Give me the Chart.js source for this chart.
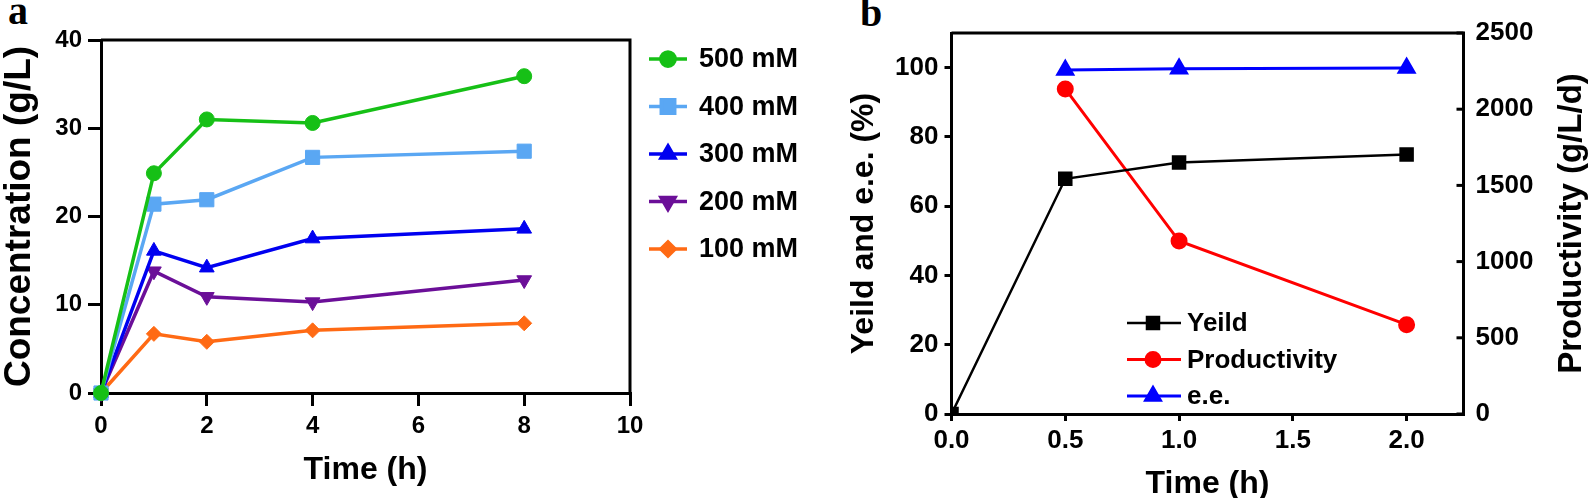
<!DOCTYPE html>
<html>
<head>
<meta charset="utf-8">
<script src="https://cdn.jsdelivr.net/npm/chart.js@4.4.1/dist/chart.umd.min.js"></script>
<style>
  html, body { margin:0; padding:0; background:#fff; width:1590px; height:498px; overflow:hidden; }
  canvas { position:absolute; top:0; }
  #ca { left:0; }
  #cb { left:845px; }
  .panel { position:absolute; font-family:"Liberation Serif", serif; font-weight:bold; font-size:40px; line-height:40px; color:#000; }
</style>
</head>
<body>
<div class="panel" style="left:8px; top:-9px;">a</div>
<div class="panel" style="left:860px; top:-7px;">b</div>
<canvas id="ca" width="845" height="498"></canvas>
<canvas id="cb" width="745" height="498"></canvas>
<script>
// ---------- Panel a data ----------
const aTimes = [0, 1, 2, 4, 8];
const aLabels = ['500 mM', '400 mM', '300 mM', '200 mM', '100 mM'];
const a500 = [0, 24.9, 31.0, 30.6, 35.9];
const a400 = [0, 21.4, 21.9, 26.7, 27.4];
const a300 = [0, 16.1, 14.2, 17.5, 18.6];
const a200 = [0, 13.8, 10.9, 10.3, 12.8];
const a100 = [0, 6.7, 5.8, 7.1, 7.9];
const aXTicks = [0, 2, 4, 6, 8, 10];
const aYTicks = [0, 10, 20, 30, 40];

// ---------- Panel b data ----------
const bLabels = ['Yeild', 'Productivity', 'e.e.'];
const bYieldTimes = [0, 0.5, 1, 2];
const bYield = [0, 67.9, 72.6, 74.9];
const bProdTimes = [0.5, 1, 2];
const bProd = [2133, 1135, 586];
const bEeTimes = [0.5, 1, 2];
const bEe = [99.3, 99.7, 99.9];
const bXTicks = [0, 0.5, 1.0, 1.5, 2.0];
const bYTicks = [0, 20, 40, 60, 80, 100];
const bY2Ticks = [0, 500, 1000, 1500, 2000, 2500];
const bY2Title = 'Productivity (g/L/d)';

const pts = (xs, ys) => xs.map((x, i) => ({ x: x, y: ys[i] }));

const lineLegend = {
  id: 'lineLegend',
  afterDraw(chart, args, o) {
    const ctx = chart.ctx;
    chart.data.datasets.forEach((ds, i) => {
      const y = o.y0 + i * o.dy;
      ctx.save();
      ctx.strokeStyle = ds.borderColor;
      ctx.lineWidth = ds.borderWidth;
      ctx.beginPath(); ctx.moveTo(o.x1, y); ctx.lineTo(o.x2, y); ctx.stroke();
      ctx.fillStyle = ds.pointBackgroundColor;
      ctx.strokeStyle = ds.pointBorderColor;
      Chart.helpers.drawPoint(ctx, { pointStyle: ds.pointStyle, rotation: ds.pointRotation || 0, radius: ds.pointRadius * o.rs, borderWidth: 1 }, o.xm, y);
      ctx.fillStyle = '#000';
      ctx.font = o.font;
      ctx.textBaseline = 'middle';
      ctx.textAlign = 'left';
      ctx.fillText(ds.label, o.tx, y + (o.ty || 0));
      ctx.restore();
    });
  }
};

const frame = {
  id: 'frame',
  beforeDatasetsDraw(chart, args, o) {
    const a = chart.chartArea, ctx = chart.ctx;
    ctx.save();
    ctx.strokeStyle = '#000'; ctx.lineWidth = o.lw;
    ctx.beginPath();
    ctx.moveTo(a.left, a.top); ctx.lineTo(a.right, a.top); ctx.lineTo(a.right, a.bottom);
    ctx.stroke();
    if (o.innerRight) {
      const s = chart.scales[o.innerRight];
      s.ticks.forEach(t => {
        const py = s.getPixelForValue(t.value);
        ctx.beginPath(); ctx.moveTo(a.right, py); ctx.lineTo(a.right - o.tl, py); ctx.stroke();
      });
    }
    ctx.restore();
  },
  afterDraw(chart, args, o) {
    if (!o.rightTitle) return;
    const s = chart.scales[o.innerRight];
    const ctx = chart.ctx;
    ctx.save();
    ctx.fillStyle = '#000';
    ctx.font = o.rightFont;
    ctx.textAlign = 'center';
    ctx.textBaseline = 'middle';
    ctx.translate(s.right - o.rightOffset, (s.top + s.bottom) / 2);
    ctx.rotate(-Math.PI / 2);
    ctx.fillText(o.rightTitle, 0, 0);
    ctx.restore();
  }
};

const fixSize = (w, h) => (s) => { if (w !== undefined) s.width = w; if (h !== undefined) s.height = h; };
const plain = v => String(v);

// ---------- Chart a ----------
const aColors = ['#16c016', '#5aa7f3', '#0000f0', '#6b0f98', '#ff6a14'];
const aSeries = [a500, a400, a300, a200, a100];
const aStyles = [
  { s: 'circle', r: 7.5, rot: 0 },
  { s: 'rect', r: 10, rot: 0 },
  { s: 'triangle', r: 8.5, rot: 0 },
  { s: 'triangle', r: 8.5, rot: 180 },
  { s: 'rectRot', r: 7.5, rot: 0 }
];
const fa = 'Liberation Sans';
new Chart(document.getElementById('ca'), {
  type: 'line',
  data: {
    datasets: aSeries.map((d, i) => ({
      label: aLabels[i],
      data: pts(aTimes, d),
      borderColor: aColors[i], backgroundColor: aColors[i],
      pointBackgroundColor: aColors[i], pointBorderColor: aColors[i],
      pointBorderWidth: 1,
      pointStyle: aStyles[i].s, pointRadius: aStyles[i].r, pointRotation: aStyles[i].rot,
      borderWidth: 3.5, tension: 0, clip: false, fill: false
    }))
  },
  options: {
    responsive: false, animation: false, devicePixelRatio: 1,
    layout: { padding: { top: 40, right: 215, left: 0, bottom: 0 } },
    plugins: {
      legend: { display: false }, tooltip: { enabled: false },
      frame: { lw: 3 },
      lineLegend: { x1: 649, x2: 687, xm: 668, tx: 699, y0: 59, dy: 47.5, rs: 0.95, font: 'bold 27px "Liberation Sans"', ty: 1 }
    },
    scales: {
      x: {
        type: 'linear', min: 0, max: 10,
        afterFit: fixSize(undefined, 105),
        afterBuildTicks: s => { s.ticks = aXTicks.map(v => ({ value: v })); },
        ticks: { color: '#000', font: { family: fa, size: 24, weight: 'bold' }, padding: 6, maxRotation: 0, autoSkip: false, callback: plain },
        grid: { drawOnChartArea: false, color: '#000', lineWidth: 3, tickLength: 13 },
        border: { color: '#000', width: 3 },
        title: { display: true, text: 'Time (h)', color: '#000', font: { family: fa, size: 32, weight: 'bold', lineHeight: 1 }, padding: { top: 0, bottom: 12 } }
      },
      y: {
        type: 'linear', min: 0, max: 40,
        afterFit: fixSize(101, undefined),
        afterBuildTicks: s => { s.ticks = aYTicks.map(v => ({ value: v })); },
        ticks: { color: '#000', font: { family: fa, size: 24, weight: 'bold' }, padding: 6, autoSkip: false, callback: plain },
        grid: { drawOnChartArea: false, color: '#000', lineWidth: 3, tickLength: 13 },
        border: { color: '#000', width: 3 },
        title: { display: true, text: 'Concentration (g/L)', color: '#000', font: { family: fa, size: 37, weight: 'bold', lineHeight: 1 }, padding: { top: 1, bottom: 0 } }
      }
    }
  },
  plugins: [frame, lineLegend]
});

// ---------- Chart b ----------
const fb = 'Liberation Sans';
new Chart(document.getElementById('cb'), {
  type: 'line',
  data: {
    datasets: [
      { label: bLabels[0], data: pts(bYieldTimes, bYield), yAxisID: 'y',
        borderColor: '#000', backgroundColor: '#000', pointBackgroundColor: '#000', pointBorderColor: '#000',
        pointStyle: 'rect', pointRadius: 8.5, borderWidth: 2.5, tension: 0, clip: 0 },
      { label: bLabels[1], data: pts(bProdTimes, bProd), yAxisID: 'y1',
        borderColor: '#ff0000', backgroundColor: '#ff0000', pointBackgroundColor: '#ff0000', pointBorderColor: '#ff0000',
        pointStyle: 'circle', pointRadius: 7, borderWidth: 3, tension: 0, clip: false },
      { label: bLabels[2], data: pts(bEeTimes, bEe), yAxisID: 'y',
        borderColor: '#0000ff', backgroundColor: '#0000ff', pointBackgroundColor: '#0000ff', pointBorderColor: '#0000ff',
        pointStyle: 'triangle', pointRadius: 8.5, borderWidth: 3, tension: 0, clip: false }
    ]
  },
  options: {
    responsive: false, animation: false, devicePixelRatio: 1,
    layout: { padding: { top: 33, right: 0, left: 0, bottom: 0 } },
    plugins: {
      legend: { display: false }, tooltip: { enabled: false },
      frame: { lw: 3, innerRight: 'y1', tl: 7, rightTitle: bY2Title, rightFont: 'bold 33px "Liberation Sans"', rightOffset: 18 },
      lineLegend: { x1: 282, x2: 336, xm: 308, tx: 342, y0: 323, dy: 36.5, rs: 1, font: 'bold 26px "Liberation Sans"', ty: 1 }
    },
    scales: {
      x: {
        type: 'linear', min: 0, max: 2.25,
        afterFit: fixSize(undefined, 84),
        afterBuildTicks: s => { s.ticks = bXTicks.map(v => ({ value: v })); },
        ticks: { color: '#000', font: { family: fb, size: 26, weight: 'bold' }, padding: 4, maxRotation: 0, autoSkip: false,
                 callback: v => Number(v).toFixed(1) },
        grid: { drawOnChartArea: false, color: '#000', lineWidth: 3, tickLength: 7 },
        border: { color: '#000', width: 3 },
        title: { display: true, text: 'Time (h)', color: '#000', font: { family: fb, size: 32, weight: 'bold', lineHeight: 1 }, padding: { top: 0, bottom: -2 } }
      },
      y: {
        type: 'linear', position: 'left', min: 0, max: 110,
        afterFit: fixSize(106.5, undefined),
        afterBuildTicks: s => { s.ticks = bYTicks.map(v => ({ value: v })); },
        ticks: { color: '#000', font: { family: fb, size: 26, weight: 'bold' }, padding: 6, autoSkip: false, callback: plain },
        grid: { drawOnChartArea: false, color: '#000', lineWidth: 3, tickLength: 7 },
        border: { color: '#000', width: 3 },
        title: { display: true, text: 'Yeild and e.e. (%)', color: '#000', font: { family: fb, size: 32, weight: 'bold', lineHeight: 1 }, padding: { top: 3, bottom: 0 } }
      },
      y1: {
        type: 'linear', position: 'right', min: 0, max: 2500,
        afterFit: fixSize(126.5, undefined),
        afterBuildTicks: s => { s.ticks = bY2Ticks.map(v => ({ value: v })); },
        ticks: { color: '#000', font: { family: fb, size: 26, weight: 'bold' }, padding: 12, autoSkip: false, callback: plain },
        grid: { drawOnChartArea: false, drawTicks: false, color: '#000', lineWidth: 3 },
        border: { color: '#000', width: 3 },
        title: { display: false }
      }
    }
  },
  plugins: [frame, lineLegend]
});
</script>
</body>
</html>
